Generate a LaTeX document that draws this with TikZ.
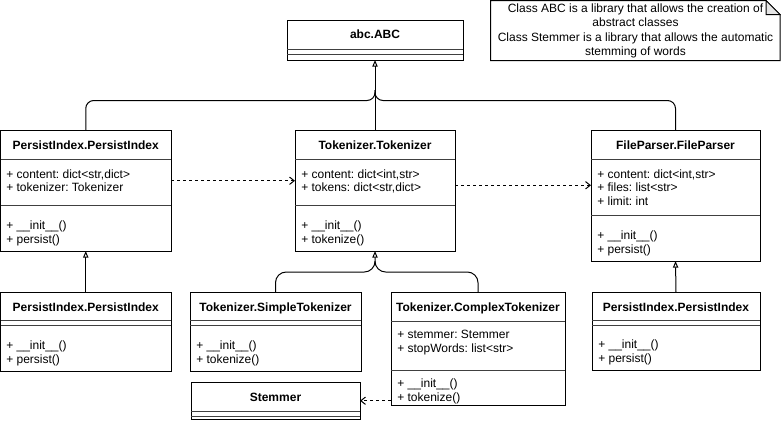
\documentclass[tikz,border=0pt]{standalone}
\usepackage{fontspec}
\setmainfont{Liberation Sans}
\usetikzlibrary{arrows.meta,calc,fit}
\begin{document}
\frenchspacing
\begin{tikzpicture}[x=0.75pt,y=-0.75pt,
  font=\fontsize{9}{10.5}\selectfont,
  classbox/.style={draw=black, line width=0.75pt, inner sep=0pt, outer sep=0pt, fill=white},
  sepline/.style={draw=black!75, line width=0.75pt},
  ctitle/.style={anchor=base, inner sep=0pt, font=\fontsize{9}{10.5}\selectfont\bfseries},
  member/.style={anchor=base west, inner sep=0pt},
  inh/.style={draw=black, line width=0.75pt},
  inhtip/.style={inh, -{Triangle[open, length=5pt, width=4pt]}},
  dep/.style={draw=black, line width=0.75pt, dash pattern=on 2.25pt off 2.25pt, -{Straight Barb[length=3.5pt, width=5.5pt]}},
]
\useasboundingbox (0,0) rectangle (781,421);

% ---------- abc.ABC ----------
\node[classbox, fit={(287,20.5) (463,60)}] (abc) {};
\node[ctitle] (abct) at (375,38.5) {abc.ABC};
\draw[sepline] (287,49) -- (463,49);
\draw[sepline] (287,54) -- (463,54);

% ---------- PersistIndex (top-left) ----------
\node[classbox, fit={(0.5,130.5) (171,251)}] (pi1) {};
\node[ctitle] (pi1t) at (85.75,149) {PersistIndex.PersistIndex};
\draw[sepline] (0.5,159) -- (171,159);
\node[member] (pi1a1) at (6,178.5) {+ content: dict<str,dict>};
\node[member] (pi1a2) at (6,191.5) {+ tokenizer: Tokenizer};
\draw[sepline] (0.5,205) -- (171,205);
\node[member] (pi1m1) at (6,229.5) {+ \_\_init\_\_()};
\node[member] (pi1m2) at (6,243) {+ persist()};

% ---------- Tokenizer.Tokenizer ----------
\node[classbox, fit={(295,130.5) (455,251)}] (tok) {};
\node[ctitle] (tokt) at (375,149) {Tokenizer.Tokenizer};
\draw[sepline] (295,159) -- (455,159);
\node[member] (toka1) at (301,178.5) {+ content: dict<int,str>};
\node[member] (toka2) at (301,191.5) {+ tokens: dict<str,dict>};
\draw[sepline] (295,205) -- (455,205);
\node[member] (tokm1) at (301,229.5) {+ \_\_init\_\_()};
\node[member] (tokm2) at (301,243) {+ tokenize()};

% ---------- FileParser.FileParser ----------
\node[classbox, fit={(591,130.5) (760,261)}] (fp) {};
\node[ctitle] (fpt) at (675.5,149) {FileParser.FileParser};
\draw[sepline] (591,159) -- (760,159);
\node[member] (fpa1) at (597,178.5) {+ content: dict<int,str>};
\node[member] (fpa2) at (597,191.5) {+ files: list<str>};
\node[member] (fpa3) at (597,205) {+ limit: int};
\draw[sepline] (591,215) -- (760,215);
\node[member] (fpm1) at (597,239.5) {+ \_\_init\_\_()};
\node[member] (fpm2) at (597,253) {+ persist()};

% ---------- PersistIndex (bottom-left) ----------
\node[classbox, fit={(0.5,292.5) (171,371)}] (pi2) {};
\node[ctitle] (pi2t) at (85.75,311) {PersistIndex.PersistIndex};
\draw[sepline] (0.5,320) -- (171,320);
\draw[sepline] (0.5,325) -- (171,325);
\node[member] (pi2m1) at (6,349.5) {+ \_\_init\_\_()};
\node[member] (pi2m2) at (6,363) {+ persist()};

% ---------- Tokenizer.SimpleTokenizer ----------
\node[classbox, fit={(190,292.5) (361,371)}] (st) {};
\node[ctitle] (stt) at (275.5,311) {Tokenizer.SimpleTokenizer};
\draw[sepline] (190,320) -- (361,320);
\draw[sepline] (190,325) -- (361,325);
\node[member] (stm1) at (196,349.5) {+ \_\_init\_\_()};
\node[member] (stm2) at (196,363) {+ tokenize()};

% ---------- Tokenizer.ComplexTokenizer ----------
\node[classbox, fit={(391,292.5) (565,405)}] (ct) {};
\node[ctitle] (ctt) at (478,311) {Tokenizer.ComplexTokenizer};
\draw[sepline] (391,321) -- (565,321);
\node[member] (cta1) at (397,338) {+ stemmer: Stemmer};
\node[member] (cta2) at (397,352) {+ stopWords: list<str>};
\draw[sepline] (391,370) -- (565,370);
\node[member] (ctm1) at (397,387.5) {+ \_\_init\_\_()};
\node[member] (ctm2) at (397,401) {+ tokenize()};

% ---------- PersistIndex (bottom-right) ----------
\node[classbox, fit={(592,292.5) (760,370)}] (pi3) {};
\node[ctitle] (pi3t) at (676,311) {PersistIndex.PersistIndex};
\draw[sepline] (592,320) -- (760,320);
\draw[sepline] (592,325) -- (760,325);
\node[member] (pi3m1) at (598,348.5) {+ \_\_init\_\_()};
\node[member] (pi3m2) at (598,362) {+ persist()};

% ---------- Stemmer ----------
\node[classbox, fit={(191,382) (360,419.5)}] (stem) {};
\node[ctitle] (stemt) at (275.5,401) {Stemmer};
\draw[sepline] (191,411) -- (360,411);
\draw[sepline] (191,416) -- (360,416);

% ---------- Note ----------
\draw[line width=0.75pt, fill=white] (490.5,0.5) -- (766,0.5) -- (780,14.5) -- (780,60.5) -- (490.5,60.5) -- cycle;
\draw[line width=0.75pt, fill=black!10] (766,0.5) -- (766,14.5) -- (780,14.5) -- cycle;
\node[align=center, inner sep=0pt, font=\fontsize{9}{10.7}\selectfont] (note) at (635.5,31) {Class ABC is a library that allows the creation of\\abstract classes\\Class Stemmer is a library that allows the automatic\\stemming of words};

% ---------- Generalisations ----------
\draw[inhtip] (tok.north) -- (abc.south);
\draw[inh, rounded corners=6pt] (pi1.north) |- ($(abc.south)+(0,40.5)$) -- ($(abc.south)+(0,30)$);
\draw[inh, rounded corners=6pt] (fp.north) |- ($(abc.south)+(0,40.5)$) -- ($(abc.south)+(0,30)$);

\draw[inhtip] (pi2.north) -- (pi1.south);
\draw[inhtip] (pi3.north) -- (fp.south);

\draw[inhtip, rounded corners=8pt] (st.north) |- ($(tok.south)+(0,21)$) -- (tok.south);
\draw[inh, rounded corners=8pt] (ct.north) |- ($(tok.south)+(0,21)$) -- ($(tok.south)+(0,10)$);

% ---------- Dependencies ----------
\draw[dep] ([yshift=7.5pt]pi1.east) coordinate (d1) -- (d1 -| tok.west);
\draw[dep] ([yshift=4.1pt]tok.east) coordinate (d2) -- (d2 -| fp.west);
\draw[dep] (ct.west |- stem.east) -- (stem.east);
\end{tikzpicture}
\end{document}
